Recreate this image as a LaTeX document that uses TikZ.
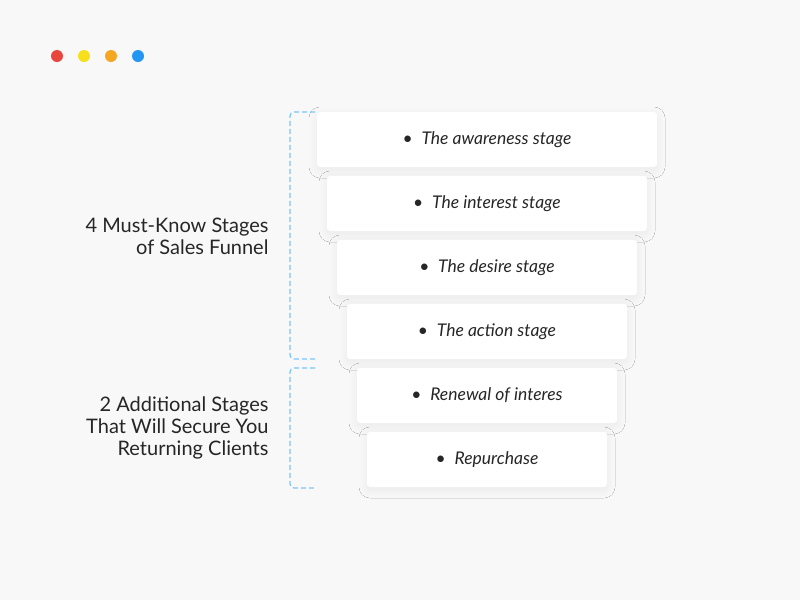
\documentclass[tikz,border=0pt]{standalone}
\usepackage{fontspec}
\setmainfont{Lato}
\usetikzlibrary{shadows.blur}
\definecolor{bg}{HTML}{F8F8F8}
\definecolor{brk}{HTML}{7CC4F8}
\begin{document}
\begin{tikzpicture}[x=1pt,y=-1pt,
 box/.style={fill=white,rounded corners=3pt,minimum height=55pt,inner sep=0pt,blur shadow={shadow xshift=0pt,shadow yshift=-3pt,shadow blur radius=8pt,shadow blur steps=12,shadow opacity=6},font=\itshape\fontsize{17.5}{21}\selectfont,text=black!85},
 lbl/.style={align=right,anchor=east,font=\fontsize{20}{22}\selectfont,text=black!85},
 brk/.style={draw=brk,dashed,dash pattern=on 5pt off 3pt,line width=1.2pt,rounded corners=4pt}]
\fill[bg] (0,0) rectangle (800,600);
\useasboundingbox (0,0) rectangle (800,600);
\foreach \x/\c [count=\i] in {57/E8453C,84/F7E01B,111/F5A623,138/2196F3}{
 \definecolor{d\i}{HTML}{\c}\fill[d\i] (\x,56) circle (6);}
\foreach \w/\t/\txt [count=\i] in {340/112/The awareness stage,320/176/The interest stage,300/240/The desire stage,280/304/The action stage,260/368/Renewal of interes,240/432/Repurchase}{
 \node[box,minimum width=\w pt] (b\i) at (487,\t+27.5) {\textbullet\enspace\txt};}
\draw[brk] (315,112) -- (290,112) -- (290,359) -- (315,359);
\draw[brk] (315,368) -- (290,368) -- (290,488) -- (315,488);
\node[lbl] (l1) at (272,236) {4 Must-Know Stages\\of Sales Funnel};
\node[lbl] (l2) at (272,428) {2 Additional Stages\\That Will Secure You\\Returning Clients};
\end{tikzpicture}
\end{document}
